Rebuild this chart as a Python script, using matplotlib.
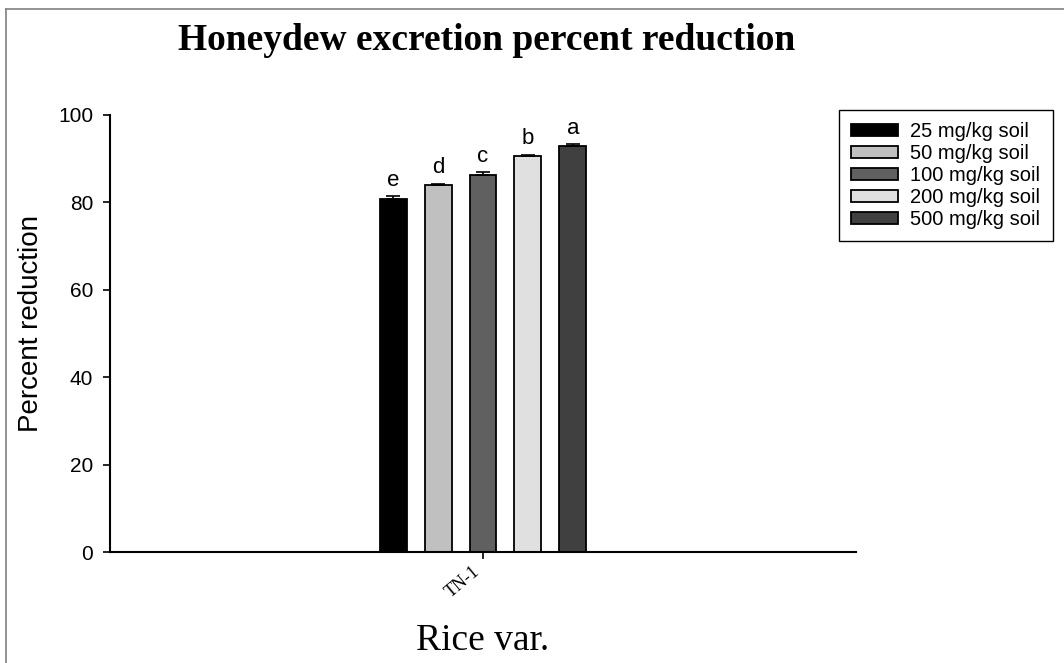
import matplotlib
matplotlib.use("Agg")
from matplotlib import pyplot as plt
from matplotlib.lines import Line2D
import numpy as np

variety = ["TN-1"]
doses = ["25 mg/kg soil", "50 mg/kg soil", "100 mg/kg soil", "200 mg/kg soil", "500 mg/kg soil"]
reduction = [80.8, 84.0, 86.3, 90.6, 92.9]
errors = [0.6, 0.3, 0.6, 0.3, 0.4]
letters = ["e", "d", "c", "b", "a"]
colors = ["#000000", "#c0c0c0", "#606060", "#e0e0e0", "#404040"]

sans = "Liberation Sans"
serif = "Liberation Serif"

W, H = 1064, 663
fig = plt.figure(figsize=(W / 100, H / 100), dpi=100)
ax = fig.add_axes([110 / W, 1 - 552 / H, (856 - 110) / W, (552 - 115) / H])

offsets = np.arange(len(doses)) - (len(doses) - 1) / 2
for i, dose in enumerate(doses):
    x = 0 + offsets[i]
    ax.bar(x, reduction[i], width=0.6, color=colors[i], edgecolor="black",
           linewidth=1.3, label=dose, zorder=2)
    ax.errorbar(x, reduction[i], yerr=[[0], [errors[i]]], fmt="none",
                ecolor="black", elinewidth=1.2, capsize=5, capthick=1.2, zorder=3)
    ax.annotate(letters[i], (x, reduction[i] + errors[i]), xytext=(0, 4),
                textcoords="offset points", ha="center", va="bottom",
                fontsize=16, family=sans)

ax.set_xlim(-8.3, 8.3)
ax.set_ylim(0, 100)
ax.set_yticks([0, 20, 40, 60, 80, 100])
ax.set_xticks([0])
ax.set_xticklabels(variety, rotation=40, family=serif, fontsize=13,
                   ha="right", va="top")
for lab in ax.get_yticklabels():
    lab.set_family(sans)
    lab.set_fontsize(15)
ax.tick_params(axis="both", direction="out", length=5, width=1.2)
ax.tick_params(axis="y", pad=7)
ax.tick_params(axis="x", pad=3)
for s in ["top", "right"]:
    ax.spines[s].set_visible(False)
for s in ["left", "bottom"]:
    ax.spines[s].set_linewidth(1.5)

fig.text(31 / W, 1 - 324 / H, "Percent reduction", family=sans, fontsize=20,
         rotation=90, ha="center", va="center")
fig.text(483 / W, 1 - 641 / H, "Rice var.", family=serif, fontsize=27,
         ha="center", va="center")
fig.text(487 / W, 1 - 41 / H, "Honeydew excretion percent reduction", family=serif,
         fontsize=27, fontweight="bold", ha="center", va="center")

leg = fig.legend(loc="upper left", bbox_to_anchor=(839 / W, 1 - 110 / H),
                 prop={"family": sans, "size": 14.5}, fancybox=False,
                 edgecolor="black", framealpha=1, handlelength=2.35,
                 handleheight=0.6, labelspacing=0.15, handletextpad=0.6,
                 borderpad=0.6, borderaxespad=0)
leg.get_frame().set_linewidth(1.0)

# outer frame of the original figure (only top and left visible)
fig.add_artist(Line2D([6 / W, 6 / W], [0, 1 - 9 / H], color="#808080", lw=1.2))
fig.add_artist(Line2D([6 / W, 1], [1 - 9 / H, 1 - 9 / H], color="#808080", lw=1.2))

plt.savefig("out.png", dpi=100)
